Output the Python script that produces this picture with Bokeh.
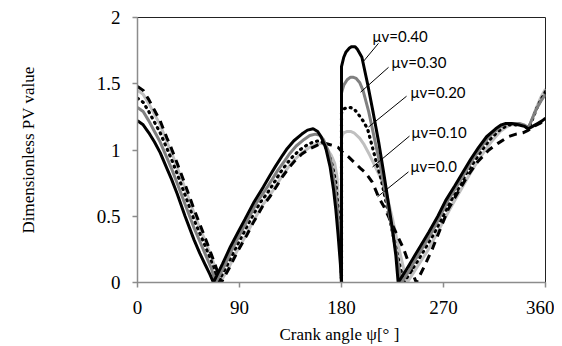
from bokeh.plotting import figure
from bokeh.models import Range1d, FixedTicker
from bokeh.core.properties import value
from bokeh.embed import file_html
from bokeh.resources import INLINE

# ---- data ----
angle_040 = [0,5,10,15,20,26,30,35,42,50,55,60,64,67,
             75,82,90,95,103,111,117,122,128,132,138,145,150,155,159,162,166,170,173,175,177,179,180,
             180,182,184,187,189,192,194,198,203,208,213,217,221,225,228,230,
             236,243,250,257,265,272,280,287,294,301,308,316,321,325,330,336,341,345,349,353,357,360]
pv_040 = [1.22,1.19,1.13,1.06,0.98,0.86,0.78,0.67,0.50,0.32,0.22,0.13,0.06,0.0,
          0.14,0.27,0.40,0.48,0.61,0.72,0.81,0.88,0.96,1.01,1.07,1.12,1.15,1.16,1.14,1.10,1.02,0.87,0.70,0.55,0.36,0.14,0.0,
          1.63,1.70,1.74,1.77,1.78,1.78,1.76,1.70,1.50,1.28,1.05,0.84,0.62,0.40,0.20,0.0,
          0.08,0.18,0.28,0.38,0.50,0.62,0.73,0.83,0.93,1.02,1.10,1.16,1.19,1.20,1.20,1.19,1.18,1.16,1.18,1.20,1.22,1.24]

angle_030 = [0,5,10,15,20,26,30,35,42,50,55,60,65,69,
             77,84,92,97,105,113,119,124,130,134,140,147,152,157,161,164,168,171,174,176,178,179,180,
             180,182,185,188,190,193,196,199,204,209,214,219,224,228,233,
             239,245,252,259,267,274,282,289,296,303,310,318,323,327,332,337,341,345,348,352,356,360]
pv_030 = [1.32,1.29,1.22,1.14,1.06,0.94,0.86,0.75,0.59,0.41,0.31,0.21,0.11,0.0,
          0.13,0.26,0.39,0.47,0.60,0.70,0.78,0.85,0.92,0.97,1.03,1.08,1.11,1.12,1.11,1.08,1.00,0.90,0.74,0.58,0.38,0.22,0.0,
          1.43,1.49,1.53,1.55,1.55,1.54,1.51,1.45,1.29,1.09,0.89,0.66,0.43,0.24,0.0,
          0.08,0.17,0.27,0.37,0.50,0.62,0.73,0.83,0.93,1.02,1.10,1.16,1.19,1.20,1.20,1.20,1.19,1.17,1.23,1.31,1.37,1.42]

angle_020 = [0,5,10,15,20,26,30,35,42,50,55,60,66,71,
             79,86,94,100,108,115,121,126,132,137,143,150,155,160,163,166,169,172,175,177,179,180,
             180,182,185,188,191,194,199,203,207,211,215,220,225,230,235,
             241,247,254,261,269,276,284,290,297,304,311,318,323,327,332,337,341,345,348,352,356,360]
pv_020 = [1.39,1.36,1.29,1.21,1.13,1.01,0.93,0.82,0.66,0.47,0.37,0.27,0.14,0.0,
          0.13,0.25,0.38,0.48,0.60,0.68,0.76,0.83,0.90,0.95,1.00,1.04,1.06,1.07,1.06,1.02,0.96,0.88,0.75,0.55,0.28,0.0,
          1.28,1.31,1.32,1.32,1.31,1.28,1.22,1.16,1.03,0.90,0.78,0.58,0.38,0.18,0.0,
          0.08,0.16,0.26,0.36,0.49,0.61,0.72,0.82,0.91,1.00,1.08,1.14,1.17,1.19,1.19,1.19,1.18,1.16,1.22,1.31,1.38,1.44]

angle_010 = [0,5,10,15,20,26,30,35,42,50,55,60,67,73,
             81,88,96,102,110,117,123,128,134,139,145,152,157,162,165,168,171,174,176,178,179.5,180,
             180,182,185,188,191,196,200,205,210,215,220,225,230,235,238,
             244,250,256,263,271,278,286,292,299,306,313,320,325,329,334,338,342,345,348,352,356,360]
pv_010 = [1.45,1.42,1.35,1.27,1.19,1.06,0.98,0.87,0.71,0.52,0.41,0.31,0.15,0.0,
          0.12,0.24,0.36,0.46,0.58,0.66,0.74,0.81,0.88,0.93,0.98,1.02,1.04,1.05,1.04,1.00,0.96,0.90,0.80,0.55,0.25,0.0,
          1.10,1.13,1.14,1.14,1.13,1.09,1.04,0.96,0.87,0.78,0.66,0.48,0.28,0.10,0.0,
          0.08,0.16,0.24,0.35,0.48,0.59,0.71,0.80,0.90,0.99,1.07,1.14,1.17,1.19,1.19,1.19,1.18,1.17,1.23,1.32,1.40,1.46]

angle_000 = [0,5,10,15,20,26,30,35,42,50,55,60,67,74,
             81,88,96,102,110,117,123,128,134,139,145,152,157,162,166,170,174,177,180,186,192,197,201,207,213,217,223,229,235,240,246,
             253,260,267,274,282,291,300,310,318,327,334,340,345,350,355,360]
pv_000 = [1.48,1.45,1.38,1.30,1.22,1.09,1.01,0.90,0.74,0.55,0.44,0.33,0.17,0.0,
          0.11,0.23,0.35,0.45,0.57,0.65,0.73,0.80,0.87,0.92,0.97,1.01,1.03,1.05,1.05,1.04,1.03,1.02,0.99,0.95,0.90,0.86,0.83,0.76,0.64,0.58,0.47,0.36,0.25,0.13,0.0,
          0.12,0.25,0.40,0.55,0.67,0.80,0.91,1.00,1.05,1.10,1.12,1.13,1.15,1.18,1.20,1.23]

labels = ["μv=0.40", "μv=0.30", "μv=0.20", "μv=0.10", "μv=0.0"]
x_ticks = [0, 90, 180, 270, 360]
y_ticks = [0, 0.5, 1, 1.5, 2]
y_tick_labels = ["0", "0.5", "1", "1.5", "2"]

# ---- figure ----
p = figure(width=554, height=346, output_backend="svg", toolbar_location=None,
           x_range=Range1d(0, 360), y_range=Range1d(0, 2),
           min_border_left=137, min_border_right=9, min_border_top=17, min_border_bottom=63)
p.xgrid.visible = False
p.ygrid.visible = False
p.outline_line_color = "#222222"
p.outline_line_width = 1
p.background_fill_color = "white"
p.border_fill_color = "white"

serif = "Liberation Serif"
for ax in (p.xaxis[0], p.yaxis[0]):
    ax.axis_line_color = "#8c8c8c"
    ax.axis_line_width = 1.5
    ax.major_tick_line_color = "#8c8c8c"
    ax.major_tick_line_width = 1.5
    ax.major_tick_out = 5
    ax.major_tick_in = 0
    ax.minor_tick_line_color = None
    ax.major_label_text_font = serif
    ax.major_label_text_font_size = "19px"
    ax.major_label_text_color = "black"
    ax.axis_label_text_font = serif
    ax.axis_label_text_font_size = "17px"
    ax.axis_label_text_font_style = "normal"
    ax.axis_label_text_color = "black"

p.xaxis.ticker = FixedTicker(ticks=x_ticks)
p.yaxis.ticker = FixedTicker(ticks=y_ticks)
p.yaxis.major_label_overrides = {t: s for t, s in zip(y_ticks, y_tick_labels)}
p.xaxis.major_label_standoff = 13
p.yaxis.major_label_standoff = 12
p.xaxis.axis_label = "Crank angle ψ[°  ]"
p.yaxis.axis_label = "Dimensionless PV value"
p.xaxis.axis_label_standoff = 8
p.yaxis.axis_label_standoff = 56

# ---- curves ----
p.line(angle_010, pv_010, line_color="#c0c0c0", line_width=3)
p.line(angle_000, pv_000, line_color="black", line_width=3, line_dash="8 6")
p.line(angle_020, pv_020, line_color="black", line_width=3.2, line_dash="1 5", line_cap="round")
p.line(angle_030, pv_030, line_color="#808080", line_width=3)
p.line(angle_040, pv_040, line_color="black", line_width=3)

# ---- annotations ----
lx = [207.4, 224.1, 240.9, 241.8, 240.9]
ly = [1.857, 1.662, 1.436, 1.135, 0.88]
p.text(x=lx, y=ly, text=labels, text_font=value("Lato"), text_font_size="15px",
       text_align="left", text_baseline="middle", text_color="black")
p.segment(x0=[212.6, 221.5, 237.4, 240.0, 239.1], y0=[1.805, 1.624, 1.406, 1.105, 0.835],
          x1=[199.4, 196.8, 203.8, 207.4, 211.8], y1=[1.669, 1.436, 1.173, 0.872, 0.647],
          line_color="black", line_width=1)

open("out.html", "w").write(file_html(p, INLINE))
